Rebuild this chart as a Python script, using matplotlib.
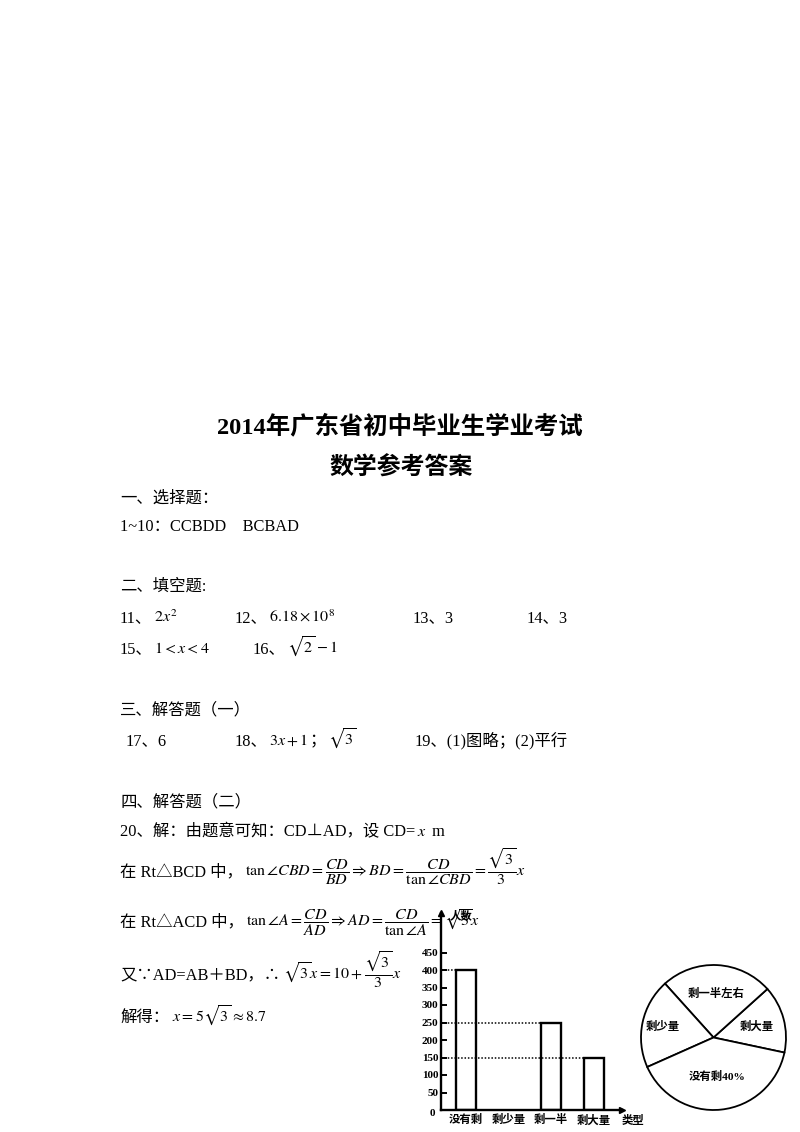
import matplotlib
matplotlib.use("Agg")
import matplotlib.pyplot as plt
import numpy as np

# ---------------- data ----------------
bar_categories = ["没有剩", "剩少量", "剩一半", "剩大量"]
bar_values = [400, 0, 250, 150]          # 剩少量 bar is left blank in the original
y_ticks = [50, 100, 150, 200, 250, 300, 350, 400, 450]

pie_labels = ["剩大量", "剩一半左右", "剩少量", "没有剩40%"]
pie_values = [150, 250, 200, 400]

W, H = 800, 1132
plt.rcParams['mathtext.fontset'] = 'stix'
SERIF = ['Liberation Serif', 'Noto Sans CJK SC', 'DejaVu Sans']
BOLDCJK = ['Liberation Serif', 'Noto Sans CJK SC', 'DejaVu Sans']

fig = plt.figure(figsize=(W / 100, H / 100), dpi=100)
fig.patch.set_facecolor('white')
renderer = fig.canvas.get_renderer()

TXT = 11.8
MTH = 11.5


def fx(x):
    return x / W


def fy(y):
    return 1 - y / H


def put(x, y, parts, size=TXT, gap=1.5):
    cur = x
    for s, kind in parts:
        if kind == 'm':
            t = fig.text(fx(cur), fy(y), s, fontsize=MTH, va='baseline', ha='left')
        else:
            t = fig.text(fx(cur), fy(y), s, fontsize=size, family=SERIF,
                         va='baseline', ha='left')
        bb = t.get_window_extent(renderer)
        cur += bb.width + gap
    return cur


# ---------------- titles ----------------
fig.text(fx(400), fy(433), "2014年广东省初中毕业生学业考试", fontsize=17.6,
         family=SERIF, weight='bold', ha='center', va='baseline')
fig.text(fx(401), fy(475), "数学参考答案", fontsize=17.2,
         family=SERIF, weight='bold', ha='center', va='baseline')

# ---------------- body ----------------
put(120, 503, [("一、选择题：", 't')])
put(120, 531, [("1~10：CCBDD    BCBAD", 't')])

put(120, 591, [("二、填空题:", 't')])
put(120, 622, [("11、", 't'), (r"$2x^{2}$", 'm')])
put(235, 622, [("12、", 't'), (r"$6.18\times10^{8}$", 'm')])
put(413, 622, [("13、3", 't')])
put(527, 622, [("14、3", 't')])
put(120, 653, [("15、", 't'), (r"$1<x<4$", 'm')])
put(253, 653, [("16、", 't'), (r"$\sqrt{2}-1$", 'm')])

put(120, 714, [("三、解答题（一）", 't')])
put(126, 745, [("17、6", 't')])
put(235, 745, [("18、", 't'), (r"$3x+1$", 'm'), ("；", 't'), (r"$\sqrt{3}$", 'm')])
put(415, 745, [("19、(1)图略；(2)平行", 't')])

put(120, 806, [("四、解答题（二）", 't')])
put(120, 836, [("20、解：由题意可知：CD⊥AD，设 CD=", 't'), (r"$x$", 'm'), (" m", 't')])

put(120, 876, [("在 Rt△BCD 中，", 't'),
               (r"$\tan\angle CBD=\dfrac{CD}{BD}\Rightarrow BD=\dfrac{CD}{\tan\angle CBD}=\dfrac{\sqrt{3}}{3}x$", 'm')],
    gap=2)
put(120, 926, [("在 Rt△ACD 中，", 't'),
               (r"$\tan\angle A=\dfrac{CD}{AD}\Rightarrow AD=\dfrac{CD}{\tan\angle A}=\sqrt{3}x$", 'm')],
    gap=2)
put(120, 979, [("又∵AD=AB＋BD，∴", 't'), (r"$\sqrt{3}x=10+\dfrac{\sqrt{3}}{3}x$", 'm')], gap=3)
put(120, 1022, [("解得：", 't'), (r"$x=5\sqrt{3}\approx8.7$", 'm')], gap=3)

# ---------------- bar chart ----------------
ax_l, ax_r, ax_b, ax_t = 441, 622, 1110, 913
ax = fig.add_axes([fx(ax_l), fy(ax_b), (ax_r - ax_l) / W, (ax_b - ax_t) / H])
ax.patch.set_visible(False)
x = np.arange(len(bar_categories))
bw = 0.47
x0 = -0.588
ax.set_xlim(x0, 3.67)
ax.set_ylim(0, (ax_b - ax_t) / 0.35)
for xi, v in zip(x, bar_values):
    if v > 0:
        ax.bar(xi, v, width=bw, facecolor='white', edgecolor='black', linewidth=1.7, zorder=2)
        ax.hlines(v, x0, xi - bw / 2, colors='black', linestyles=(0, (1, 1.2)),
                  linewidth=1.1, zorder=3)
for s in ['top', 'right']:
    ax.spines[s].set_visible(False)
for s in ['left', 'bottom']:
    ax.spines[s].set_linewidth(1.7)
ax.plot(1, 0, '>k', markersize=4.5, transform=ax.transAxes, clip_on=False)
ax.plot(0, 1, '^k', markersize=4.5, transform=ax.transAxes, clip_on=False)
ax.set_yticks(y_ticks)
ax.set_yticklabels([str(t) for t in y_ticks])
ax.tick_params(axis='y', direction='in', length=4, width=1.4, pad=2)
for lab in ax.get_yticklabels():
    lab.set_fontfamily('Liberation Serif')
    lab.set_fontweight('bold')
    lab.set_fontsize(8)
ax.set_xticks(x)
ax.set_xticklabels(bar_categories)
ax.tick_params(axis='x', length=0, pad=3)
for lab in ax.get_xticklabels():
    lab.set_fontfamily(BOLDCJK)
    lab.set_fontweight('bold')
    lab.set_fontsize(8.2)
ax.annotate("0", xy=(0, 0), xycoords='axes fraction', xytext=(-6.5, -2.5),
            textcoords='offset points', ha='center', va='center',
            family='Liberation Serif', weight='bold', fontsize=8)
ax.annotate("类型", xy=(1, 0), xycoords='axes fraction', xytext=(8, -7.3),
            textcoords='offset points', ha='center', va='center',
            family=BOLDCJK, weight='bold', fontsize=8.2)
ax.annotate("人数", xy=(0, 1), xycoords='axes fraction', xytext=(14.4, -1.8),
            textcoords='offset points', ha='center', va='center',
            family=BOLDCJK, weight='bold', fontsize=8.2)

# ---------------- pie chart ----------------
cx, cy, r = 713.5, 1037.5, 72.5
pax = fig.add_axes([fx(cx - r * 1.02), fy(cy + r * 1.02), 2 * r * 1.02 / W, 2 * r * 1.02 / H])
wedges, _ = pax.pie(pie_values, startangle=-12, counterclock=True,
                    colors=['white'] * len(pie_values),
                    wedgeprops=dict(edgecolor='black', linewidth=1.3))
pax.set_xlim(-1.02, 1.02)
pax.set_ylim(-1.02, 1.02)
pax.set_aspect('equal')
label_dist = {"剩大量": 0.62, "剩一半左右": 0.61, "剩少量": 0.72, "没有剩40%": 0.54}
for w, lab in zip(wedges, pie_labels):
    ang = np.deg2rad((w.theta1 + w.theta2) / 2)
    d = label_dist[lab]
    pax.text(d * np.cos(ang), d * np.sin(ang), lab, ha='center', va='center',
             family=BOLDCJK, weight='bold', fontsize=8.2)

fig.savefig("out.png", dpi=100, facecolor='white')
